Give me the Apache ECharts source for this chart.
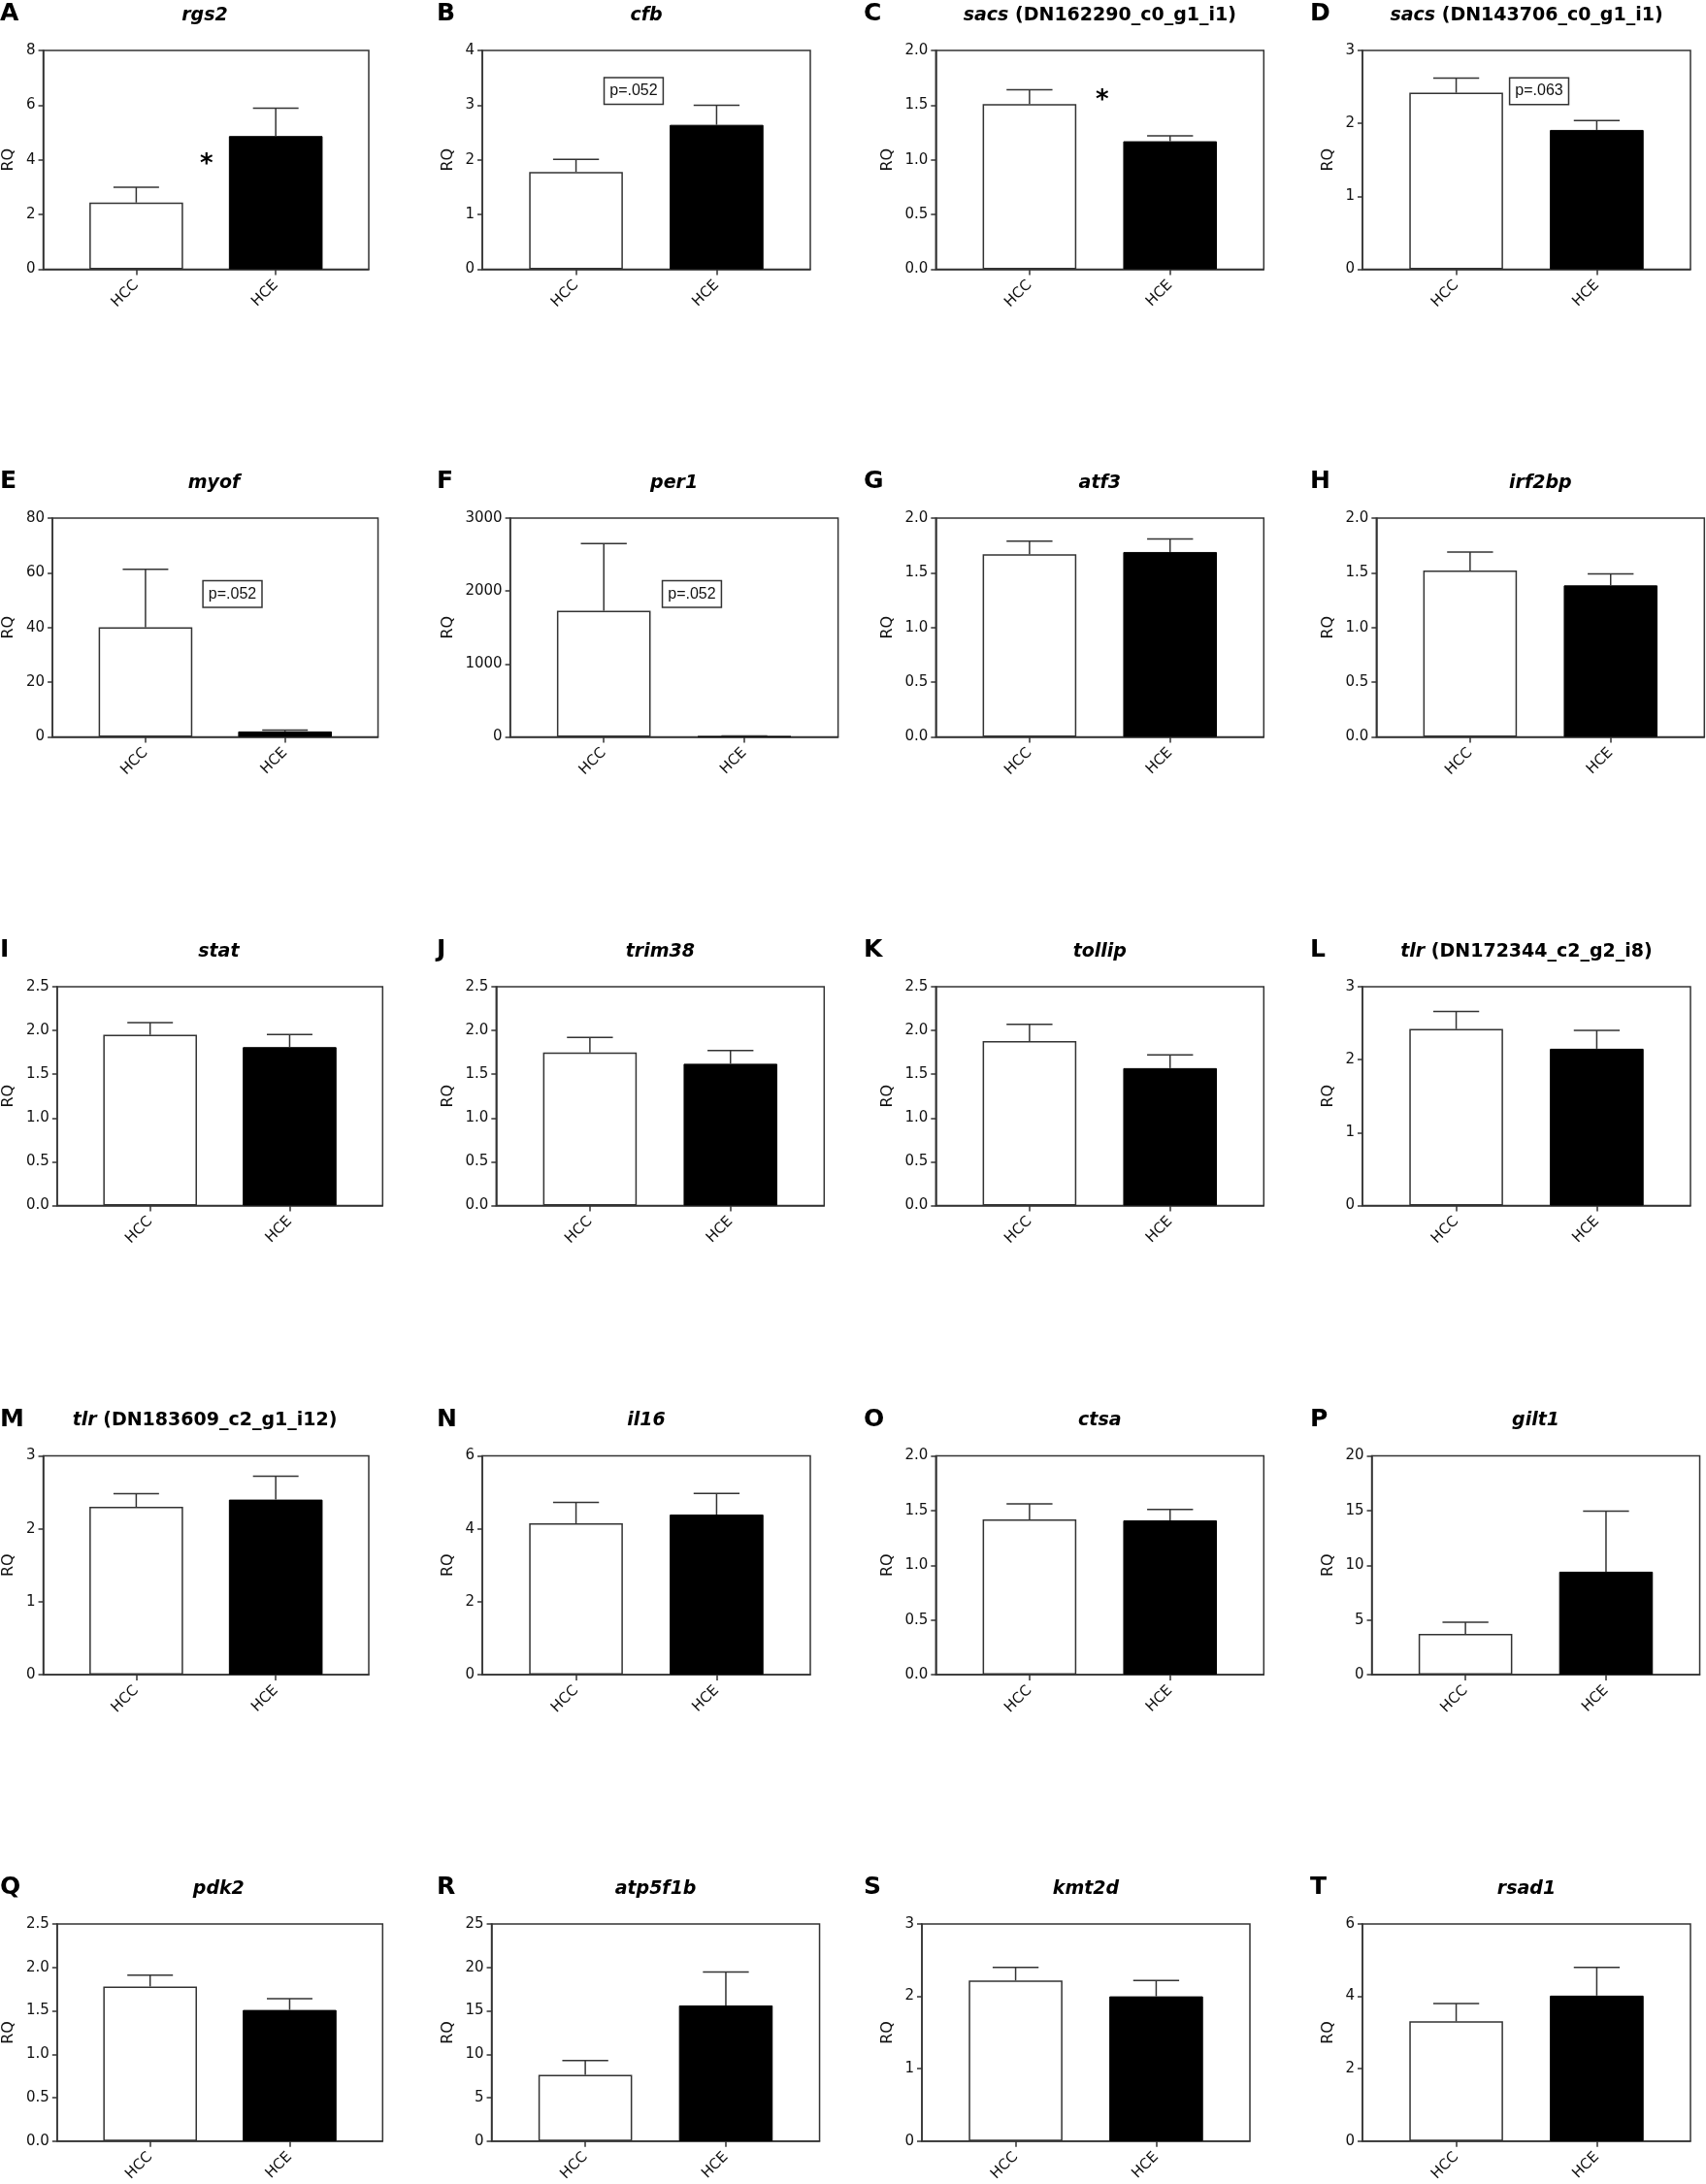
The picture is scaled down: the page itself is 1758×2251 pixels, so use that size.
<!DOCTYPE html>
<html>
<head>
<meta charset="utf-8">
<script src="https://cdn.jsdelivr.net/npm/echarts@6/dist/echarts.min.js"></script>
<style>
  html, body { margin: 0; padding: 0; background: #fff; }
  #main { width: 1758px; height: 2251px; }
</style>
</head>
<body>
<div id="main"></div>
<script>
// panel data (RQ, mean and top of the error bar)
const panelLetters = ['A','B','C','D','E','F','G','H','I','J','K','L','M','N','O','P','Q','R','S','T'];
const genes = ['rgs2','cfb','sacs','sacs','myof','per1','atf3','irf2bp','stat','trim38','tollip','tlr','tlr','il16','ctsa','gilt1','pdk2','atp5f1b','kmt2d','rsad1'];
const geneIds = ['','','DN162290_c0_g1_i1','DN143706_c0_g1_i1','','','','','','','','DN172344_c2_g2_i8','DN183609_c2_g1_i12','','','','','','',''];
const groups = ['HCC','HCE'];
const yMax  = [8, 4, 2, 3,  80, 3000, 2, 2,  2.5, 2.5, 2.5, 3,  3, 6, 2, 20,  2.5, 25, 3, 6];
const yStep = [2, 1, 0.5, 1, 20, 1000, 0.5, 0.5, 0.5, 0.5, 0.5, 1, 1, 2, 0.5, 5, 0.5, 5, 1, 2];
const hccMean  = [2.44, 1.78, 1.51, 2.42, 40.1, 1730, 1.67, 1.52, 1.95, 1.75, 1.88, 2.42, 2.30, 4.15, 1.42, 3.73, 1.78, 7.64, 2.22, 3.31];
const hccUpper = [3.00, 2.01, 1.64, 2.62, 61.3, 2651, 1.79, 1.69, 2.09, 1.92, 2.07, 2.66, 2.48, 4.72, 1.56, 4.79, 1.91, 9.27, 2.40, 3.80];
const hceMean  = [4.87, 2.64, 1.17, 1.91, 2.0, 8, 1.69, 1.385, 1.81, 1.62, 1.57, 2.15, 2.40, 4.39, 1.41, 9.41, 1.51, 15.62, 2.00, 4.02];
const hceUpper = [5.89, 3.00, 1.22, 2.04, 2.5, 14, 1.81, 1.49, 1.955, 1.77, 1.72, 2.40, 2.72, 4.97, 1.51, 14.94, 1.64, 19.46, 2.22, 4.80];

// significance marks: panel index, text, position in data units
const markPanel = [0, 1, 2, 3, 4, 5];
const markText = ['*', 'p=.052', '*', 'p=.063', 'p=.052', 'p=.052'];
const markX = [3.51, 3.23, 3.55, 3.77, 3.87, 3.88];
const markY = [4.0, 3.26, 1.58, 2.44, 52.2, 1958];

const FONT = '"DejaVu Sans", sans-serif';
const LINE = '#333';
const colBase = [42, 497, 950, 1404];
const letterX = [0, 450, 890, 1350];
const rowTop = [52, 534, 1017, 1500.5, 1983];
const gridW = 338, gridH = 225.5;
const xPos = [2, 5];   // bar centres on a 0..7 axis

const ctx = document.createElement('canvas').getContext('2d');
ctx.font = '15px ' + FONT;
function textW(s) { return ctx.measureText(s).width; }
function fmtTick(i, v) { return yStep[i] < 1 ? v.toFixed(1) : String(v); }

const grid = [], xAxis = [], yAxis = [], series = [], graphic = [];

genes.forEach(function (g, i) {
    const r = Math.floor(i / 4), c = i % 4;
    const labelW = textW(fmtTick(i, yMax[i]));
    const left = colBase[c] + labelW - textW('8');
    const top = rowTop[r];

    grid.push({
        left: left, top: top, width: gridW, height: gridH,
        show: true, borderColor: LINE, borderWidth: 1.5, backgroundColor: 'transparent'
    });
    xAxis.push({
        gridIndex: i, type: 'value', min: 0, max: 7,
        axisLine: { lineStyle: { color: LINE, width: 1.5 } },
        axisTick: { customValues: xPos, length: 6, lineStyle: { color: LINE, width: 1.5 } },
        axisLabel: {
            customValues: xPos, rotate: 45, margin: 14,
            fontFamily: FONT, fontSize: 15, color: '#111',
            formatter: function (v) { return groups[xPos.indexOf(v)] || ''; }
        },
        splitLine: { show: false }
    });
    yAxis.push({
        gridIndex: i, type: 'value', min: 0, max: yMax[i], interval: yStep[i],
        name: 'RQ', nameLocation: 'middle', nameGap: labelW + 18,
        nameTextStyle: { fontFamily: FONT, fontSize: 16, color: '#111' },
        axisLine: { show: true, lineStyle: { color: LINE, width: 1.5 } },
        axisTick: { show: true, length: 5, lineStyle: { color: LINE, width: 1.5 } },
        axisLabel: {
            margin: 8, fontFamily: FONT, fontSize: 15, color: '#111',
            formatter: function (v) { return fmtTick(i, v); }
        },
        splitLine: { show: false }
    });

    series.push({
        type: 'bar', xAxisIndex: i, yAxisIndex: i, z: 2,
        barWidth: gridW * 2 / 7,
        data: [
            { value: [xPos[0], hccMean[i]], itemStyle: { color: '#fff', borderColor: LINE, borderWidth: 1.5 } },
            { value: [xPos[1], hceMean[i]], itemStyle: { color: '#000', borderColor: '#000', borderWidth: 1 } }
        ],
        silent: true
    });
    series.push({
        type: 'custom', xAxisIndex: i, yAxisIndex: i, z: 3, silent: true,
        data: [[xPos[0], hccMean[i], hccUpper[i]], [xPos[1], hceMean[i], hceUpper[i]]],
        renderItem: function (params, api) {
            const p0 = api.coord([api.value(0), api.value(1)]);
            const p1 = api.coord([api.value(0), api.value(2)]);
            const half = api.size([0.49, 0])[0];
            const st = { stroke: LINE, lineWidth: 1.5 };
            return {
                type: 'group', children: [
                    { type: 'line', shape: { x1: p0[0], y1: p0[1], x2: p1[0], y2: p1[1] }, style: st },
                    { type: 'line', shape: { x1: p1[0] - half, y1: p1[1], x2: p1[0] + half, y2: p1[1] }, style: st }
                ]
            };
        }
    });

    // panel letter and gene title
    graphic.push({
        type: 'text', left: letterX[c], top: top - 36 - 14,
        style: { text: panelLetters[i], font: 'bold 25px ' + FONT, fill: '#000' }
    });
    const title = '{g|' + g + '}' + (geneIds[i] ? '{s| (' + geneIds[i] + ')}' : '');
    graphic.push({
        type: 'text', x: left + gridW / 2, y: top - 36,
        style: {
            text: title, align: 'center', verticalAlign: 'middle', fill: '#000',
            rich: {
                g: { fontStyle: 'italic', fontWeight: 'bold', fontSize: 19, fontFamily: FONT },
                s: { fontWeight: 'bold', fontSize: 19, fontFamily: FONT }
            }
        }
    });
});

markPanel.forEach(function (p, k) {
    const isStar = markText[k] === '*';
    series.push({
        type: 'custom', xAxisIndex: p, yAxisIndex: p, z: 4, silent: true,
        data: [[markX[k], markY[k]]],
        renderItem: function (params, api) {
            const pt = api.coord([api.value(0), api.value(1)]);
            return {
                type: 'text', x: pt[0], y: pt[1] + (isStar ? 5 : 0),
                style: isStar ? {
                    text: '*', align: 'center', verticalAlign: 'middle',
                    font: 'bold 26px ' + FONT, fill: '#000'
                } : {
                    text: markText[k], align: 'center', verticalAlign: 'middle',
                    font: '16px "Liberation Sans", Arial, sans-serif', fill: '#111',
                    backgroundColor: '#fff', borderColor: LINE, borderWidth: 1.5,
                    padding: [4, 5, 3, 5], lineHeight: 19
                }
            };
        }
    });
});

const myChart = echarts.init(document.getElementById('main'));
myChart.setOption({
    animation: false,
    backgroundColor: '#fff',
    grid: grid,
    xAxis: xAxis,
    yAxis: yAxis,
    series: series,
    graphic: graphic
});
</script>
</body>
</html>
